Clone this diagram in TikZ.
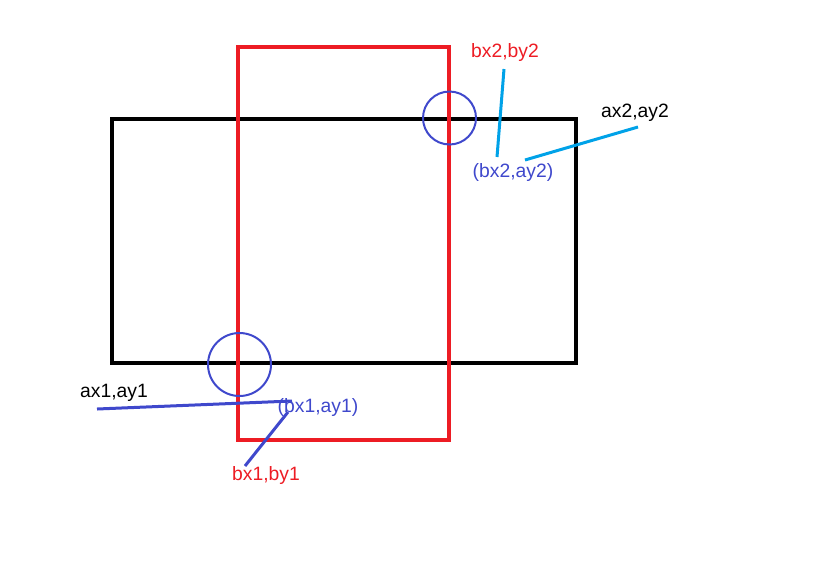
\documentclass[tikz,border=0pt]{standalone}
\usepackage{fontspec}
\setmainfont{Liberation Sans}
\definecolor{paintred}{RGB}{237,28,36}
\definecolor{paintblue}{RGB}{63,72,204}
\definecolor{paintcyan}{RGB}{0,162,232}
\begin{document}
\begin{tikzpicture}[x=0.02cm, y=-0.02cm,
    lbl/.style={font=\fontsize{11}{13}\selectfont, inner sep=0pt},
    rect/.style={line width=4*0.02cm},
    ring/.style={draw=paintblue, line width=2*0.02cm},
    lead/.style={line width=3*0.02cm}]
    \useasboundingbox (0,0) rectangle (837,582);

    % Rectangle A (black)
    \draw[rect, black] (112,119) rectangle (576,363);
    % Rectangle B (red)
    \draw[rect, paintred] (238,47) rectangle (449,440);

    % Intersection circles
    \draw[ring] (449.5,118) circle (26.5);
    \draw[ring] (239.5,364.5) circle (31.5);

    % Labels, upper corner
    \node[lbl, text=paintred] (bxby2) at (505,52) {bx2,by2};
    \node[lbl, text=black] (axay2) at (635,113) {ax2,ay2};
    \node[lbl, text=paintblue] (bxay2) at (513,172) {(bx2,ay2)};

    % Labels, lower corner
    \node[lbl, text=black] (axay1) at (114,393) {ax1,ay1};
    \node[lbl, text=paintblue] (bxay1) at (318,407) {(bx1,ay1)};
    \node[lbl, text=paintred] (bxby1) at (266,475) {bx1,by1};

    % Leader ends
    \coordinate (u1) at (504,69);
    \coordinate (u2) at (497,157);
    \coordinate (u3) at (525,160);
    \coordinate (u4) at (638,127);
    \coordinate (l1) at (97,409);
    \coordinate (l2) at (292,401);
    \coordinate (l3) at (288,412);
    \coordinate (l4) at (245,466);

    % Leader lines
    \draw[lead, paintcyan] (u1) -- (u2);
    \draw[lead, paintcyan] (u3) -- (u4);
    \draw[lead, paintblue] (l1) -- (l2);
    \draw[lead, paintblue] (l3) -- (l4);

\end{tikzpicture}
\end{document}
